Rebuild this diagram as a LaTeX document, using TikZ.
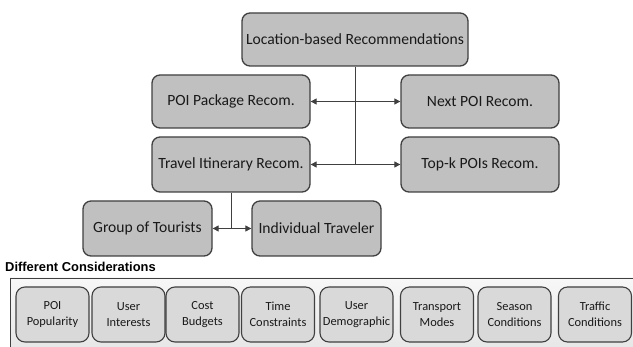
\documentclass[tikz,border=0pt]{standalone}
\usepackage{fontspec}
\setmainfont{Carlito}
\newfontfamily\labelfont{Liberation Sans}
\usetikzlibrary{arrows.meta}
\definecolor{edgegray}{HTML}{404040}
\definecolor{mainfill}{HTML}{C0C0C0}
\definecolor{smallfill}{HTML}{D9D9D9}
\tikzset{
  mainbox/.style={draw=edgegray, line width=1.3pt, fill=mainfill, rounded corners=8pt,
    minimum height=53pt, inner sep=2pt, font=\fontsize{15.6}{18}\selectfont, text=black!90},
  smallbox/.style={draw=edgegray, line width=1.1pt, fill=smallfill, rounded corners=9pt,
    minimum width=73pt, minimum height=55pt, inner sep=1pt, align=center,
    font=\fontsize{12.4}{15.5}\selectfont, text=black!90},
  conn/.style={draw=edgegray, line width=1pt},
  biarrow/.style={conn, {Triangle[length=6pt,width=6pt]}-{Triangle[length=6pt,width=6pt]}}
}
\begin{document}
\begin{tikzpicture}[x=1pt,y=-1pt]
\useasboundingbox (0,0) rectangle (633,347);
\begin{scope}
\clip (0,0) rectangle (633,347);
\draw[draw=edgegray, line width=0.8pt, top color=white!97!black, bottom color=white!89!black]
  (10,278) rectangle (645,365);
\end{scope}
\node[mainbox, minimum width=226pt] (top) at (355,39.5) {Location-based Recommendations};
\node[mainbox, minimum width=158pt] (pkg) at (231,101.5) {POI Package Recom.};
\node[mainbox, minimum width=158pt] (next) at (480,101.5) {Next POI Recom.};
\node[mainbox, minimum width=158pt, minimum height=55pt] (itin) at (231,164.5) {Travel Itinerary Recom.};
\node[mainbox, minimum width=158pt, minimum height=55pt] (topk) at (480,164.5) {Top-k POIs Recom.};
\node[mainbox, minimum width=129pt, minimum height=55pt] (group) at (147.5,228.5) {Group of Tourists};
\node[mainbox, minimum width=129pt, minimum height=55pt] (indiv) at (316.5,228.5) {Individual Traveler};

\draw[biarrow] (pkg.east) -- (next.west);
\draw[biarrow] (itin.east) -- (topk.west);
\draw[conn] (top.south) -- (top.south |- itin.east);
\draw[biarrow] (group.east) -- (indiv.west);
\draw[conn] (itin.south) -- (itin.south |- group.east);

\node[anchor=base west, inner sep=0pt, font=\labelfont\bfseries\fontsize{12.9}{14}\selectfont] (lbl) at (5,272) {Different Considerations};

\node[smallbox] (c1) at (52.5,314.5) {POI\\Popularity};
\node[smallbox] (c2) at (128.5,314.5) {User\\Interests};
\node[smallbox] (c3) at (202.5,314.5) {Cost\\Budgets};
\node[smallbox] (c4) at (278,314.5) {Time\\Constraints};
\node[smallbox] (c5) at (356.5,314.5) {User\\Demographic};
\node[smallbox] (c6) at (437,314.5) {Transport\\Modes};
\node[smallbox] (c7) at (514.5,314.5) {Season\\Conditions};
\node[smallbox] (c8) at (595,314.5) {Traffic\\Conditions};
\end{tikzpicture}
\end{document}
